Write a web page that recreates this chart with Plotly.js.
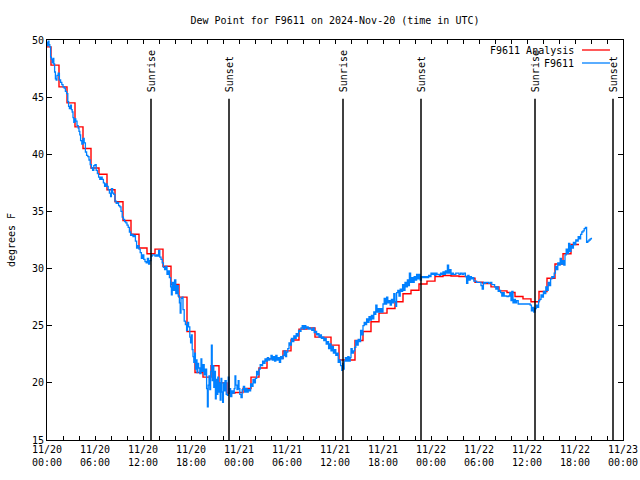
<!DOCTYPE html>
<html>
<head>
<meta charset="utf-8">
<script src="https://cdn.plot.ly/plotly-3.0.1.min.js"></script>
<style>html,body{margin:0;padding:0;background:#fff;}#chart{width:640px;height:480px;}</style>
</head>
<body>
<div id="chart"></div>
<script>
// ---- data (hours after 2024-11-20 00:00 UTC) ----
const analysisHours = [-0.5,0.5,1.5,2.5,3.5,4.5,5.5,6.5,7.5,8.5,9.5,10.5,11.5,12.5,13.5,14.5,15.5,16.5,17.5,18.5,19.5,20.5,21.5,22.5,23.5,24.5,25.5,26.5,27.5,28.5,29.5,30.5,31.5,32.5,33.5,34.5,35.5,36.5,37.5,38.5,39.5,40.5,41.5,42.5,43.5,44.5,45.5,46.5,47.5,48.5,49.5,50.5,51.5,52.5,53.5,54.5,55.5,56.5,57.5,58.5,59.5,60.5,61.5,62.5,63.5,64.5,65.5,66.5];
const analysisDew = [49.4,47.8,45.9,44.5,42.4,40.5,38.8,38.25,36.9,35.85,34.2,33.0,31.8,31.3,31.7,30.2,28.6,27.5,24.5,20.9,20.5,21.5,20.0,19.1,19.15,19.5,20.5,21.3,22.1,22.15,22.8,23.75,24.7,24.8,24.0,24.0,23.3,22.0,22.0,23.7,24.5,25.35,26.1,26.5,27.1,27.8,28.1,28.65,28.9,29.3,29.4,29.35,29.3,29.15,28.8,28.7,28.4,28.05,27.9,27.55,27.35,27.1,28.0,29.15,30.4,31.3,32.1,32.1];

const stationHours = [0.00,0.08,0.15,0.25,0.35,0.45,0.55,0.65,0.75,0.85,0.95,1.05,1.15,1.25,1.40,1.55,1.70,1.85,2.00,2.15,2.30,2.45,2.60,2.70,2.80,2.95,3.05,3.15,3.25,3.35,3.45,3.60,3.75,3.90,4.00,4.10,4.20,4.35,4.50,4.65,4.80,4.95,5.10,5.25,5.40,5.55,5.70,5.85,6.00,6.15,6.30,6.45,6.60,6.75,6.90,7.05,7.20,7.35,7.50,7.65,7.80,7.95,8.05,8.20,8.35,8.50,8.65,8.80,8.95,9.10,9.25,9.40,9.55,9.70,9.85,10.00,10.15,10.30,10.45,10.60,10.75,10.90,11.05,11.20,11.35,11.50,11.65,11.80,11.95,12.10,12.25,12.40,12.55,12.70,12.85,13.00,13.15,13.30,13.50,13.70,13.85,13.95,14.10,14.25,14.40,14.55,14.70,14.85,15.00,15.15,15.30,15.45,15.55,15.65,15.80,15.95,16.10,16.25,16.40,16.55,16.65,16.75,16.90,17.00,17.15,17.30,17.45,17.55,17.70,17.85,17.95,18.05,18.15,18.25,18.35,18.45,18.55,18.65,18.75,18.85,18.95,19.10,19.25,19.35,19.50,19.65,19.80,19.95,20.05,20.15,20.25,20.35,20.45,20.55,20.65,20.75,20.85,20.95,21.05,21.15,21.25,21.35,21.45,21.55,21.65,21.75,21.85,21.95,22.05,22.15,22.25,22.40,22.55,22.65,22.75,22.85,22.95,23.10,23.25,23.40,23.50,23.60,23.75,23.90,24.00,24.10,24.25,24.40,24.55,24.70,24.85,25.00,25.15,25.30,25.45,25.60,25.75,25.90,26.05,26.20,26.35,26.50,26.65,26.80,26.95,27.10,27.25,27.40,27.55,27.70,27.85,28.00,28.15,28.30,28.45,28.60,28.75,28.90,29.05,29.20,29.35,29.50,29.65,29.80,29.95,30.10,30.25,30.40,30.55,30.70,30.85,31.00,31.15,31.30,31.45,31.60,31.75,31.90,32.05,32.20,32.35,32.50,32.65,32.80,32.95,33.10,33.25,33.40,33.55,33.70,33.85,34.00,34.15,34.30,34.45,34.60,34.75,34.90,35.05,35.20,35.35,35.50,35.65,35.80,35.95,36.10,36.25,36.40,36.55,36.70,36.85,36.95,37.05,37.15,37.30,37.45,37.60,37.75,37.90,38.00,38.15,38.30,38.45,38.60,38.75,38.90,39.05,39.20,39.35,39.50,39.65,39.80,39.95,40.10,40.25,40.40,40.55,40.70,40.85,41.00,41.10,41.25,41.40,41.55,41.70,41.85,42.00,42.15,42.30,42.45,42.60,42.75,42.90,43.05,43.20,43.35,43.50,43.60,43.70,43.85,44.00,44.15,44.30,44.45,44.60,44.75,44.90,45.05,45.20,45.30,45.45,45.60,45.75,45.90,46.05,46.20,46.35,46.50,46.65,46.80,46.95,47.10,47.25,47.40,47.55,47.70,47.85,48.00,48.15,48.30,48.45,48.60,48.75,48.90,49.05,49.20,49.35,49.50,49.65,49.80,49.95,50.05,50.20,50.35,50.50,50.65,50.80,50.95,51.10,51.30,51.50,51.70,51.90,52.10,52.30,52.45,52.60,52.75,52.90,53.05,53.20,53.35,53.50,53.70,53.90,54.10,54.25,54.40,54.55,54.70,54.85,55.00,55.20,55.40,55.60,55.80,55.95,56.10,56.25,56.40,56.55,56.70,56.85,57.00,57.15,57.30,57.50,57.70,57.85,58.00,58.10,58.25,58.40,58.55,58.70,58.90,59.20,59.50,59.80,60.10,60.40,60.55,60.70,60.85,61.00,61.15,61.30,61.45,61.60,61.75,61.90,62.05,62.20,62.35,62.50,62.65,62.80,62.95,63.10,63.25,63.40,63.55,63.70,63.85,64.00,64.15,64.30,64.45,64.60,64.75,64.90,65.05,65.20,65.35,65.50,65.65,65.80,65.95,66.10,66.25,66.40,66.55,66.70,66.85,67.00,67.15,67.30,67.45,67.60,67.75,67.90,68.05];
const stationDew = [49.8,49.5,49.9,49.6,49.4,48.5,48.3,48.0,48.4,47.9,47.2,46.6,46.5,46.9,47.1,46.5,46.3,46.1,45.9,45.8,45.5,45.3,44.6,44.2,44.0,44.3,43.9,43.7,43.2,42.8,43.1,42.9,42.5,42.3,42.0,41.7,41.2,40.9,41.4,41.0,40.2,39.9,39.8,39.5,39.1,38.8,38.6,39.0,39.1,38.6,38.3,38.0,37.8,38.0,37.8,37.5,37.2,37.4,37.2,36.9,36.6,36.3,37.0,36.6,36.5,35.9,35.7,35.8,35.5,35.4,35.0,34.5,34.3,34.1,34.0,33.8,33.6,33.2,32.9,33.0,32.8,32.9,32.4,31.8,32.0,31.7,31.4,30.9,31.2,30.8,30.6,30.5,30.9,30.4,30.7,31.1,31.2,31.2,31.1,31.2,31.1,31.6,31.0,30.8,30.5,30.1,29.9,30.2,29.5,29.8,29.2,28.4,27.7,28.8,28.1,29.0,27.8,28.5,27.6,27.0,26.1,27.4,27.5,26.4,25.4,25.1,24.6,25.3,24.9,24.0,23.5,24.2,22.9,22.3,21.8,22.6,21.2,22.0,20.9,21.7,21.3,20.8,22.1,21.0,21.6,20.7,21.2,19.5,17.9,19.8,20.6,19.4,21.0,23.3,20.2,21.5,19.6,21.0,18.6,20.3,19.0,20.5,19.2,20.0,18.5,20.4,19.2,18.3,20.0,19.3,20.2,19.0,18.9,20.5,19.1,19.5,18.8,19.3,19.1,19.5,20.6,19.8,19.4,20.2,19.5,19.0,18.7,19.4,19.7,19.2,19.5,19.2,19.4,19.3,19.9,19.7,20.3,20.0,20.4,21.0,20.7,21.2,21.6,21.5,21.9,21.7,22.1,21.9,22.2,22.0,22.1,22.4,22.0,22.3,21.9,22.4,22.0,22.2,21.8,22.3,22.1,22.4,22.8,22.3,22.7,23.0,23.5,23.3,23.9,23.6,24.1,23.9,24.3,24.1,24.6,24.5,24.8,25.0,24.7,25.0,24.8,24.9,24.7,24.8,24.7,24.6,24.8,24.4,24.5,24.2,24.3,24.0,24.2,23.9,24.0,23.7,23.9,23.4,23.6,23.0,23.4,22.8,23.2,22.6,22.9,22.4,22.6,21.8,22.0,21.5,21.1,21.7,21.2,21.9,22.2,21.9,22.3,21.9,22.2,23.0,22.6,22.8,23.1,23.7,23.3,23.8,23.6,24.6,24.2,25.0,25.3,25.1,25.6,25.3,25.8,25.5,25.9,25.6,26.2,26.0,26.8,26.2,26.5,26.2,26.5,26.2,26.9,27.4,26.9,27.5,27.0,27.2,26.8,27.3,27.0,27.8,27.1,26.7,27.9,28.1,27.6,28.2,28.0,28.6,28.1,28.8,28.4,29.0,28.5,29.6,28.8,29.2,28.8,29.3,29.0,29.5,29.1,29.5,29.0,29.3,29.2,29.3,29.2,29.3,29.2,29.4,29.3,29.6,29.5,29.6,29.4,29.6,29.5,29.5,29.4,29.6,29.5,29.7,29.5,29.8,29.6,30.3,29.6,29.9,29.5,29.6,29.5,29.5,29.6,29.6,29.5,29.6,29.5,29.6,29.3,28.7,29.4,29.0,29.3,29.1,29.2,28.9,28.9,28.8,28.8,28.8,28.5,28.2,28.8,28.7,28.8,28.8,28.7,28.8,28.6,28.6,28.4,28.2,28.4,28.0,28.1,27.9,27.6,27.9,27.6,27.6,27.55,27.6,27.9,27.2,28.0,27.0,27.3,27.0,27.2,26.9,26.9,26.9,26.9,26.9,26.8,26.3,26.6,26.2,26.5,26.8,26.6,27.2,27.3,27.7,27.5,28.0,27.8,28.4,28.1,28.8,28.5,29.1,29.3,29.2,29.6,30.2,29.9,30.5,30.3,30.9,30.4,30.7,30.3,31.2,31.7,31.3,32.2,31.5,32.0,31.8,32.3,32.1,32.5,32.4,32.8,32.6,33.0,33.2,33.3,33.5,33.6,32.3,32.4,32.5,32.6,32.7];

const sunriseHours = [13.0, 37.0, 61.0];
const sunsetHours = [22.75, 46.75, 70.75];
const xTickHours = [0,6,12,18,24,30,36,42,48,54,60,66,72];
const xTickLabels = ['11/20<br>00:00','11/20<br>06:00','11/20<br>12:00','11/20<br>18:00','11/21<br>00:00','11/21<br>06:00','11/21<br>12:00','11/21<br>18:00','11/22<br>00:00','11/22<br>06:00','11/22<br>12:00','11/22<br>18:00','11/23<br>00:00'];
const seriesNames = ['F9611 Analysis', 'F9611'];
const titleText = 'Dew Point for F9611 on 2024-Nov-20 (time in UTC)';

// ---- helpers ----
const T0 = Date.UTC(2024, 10, 20, 0, 0, 0);
function toDate(h) { return new Date(T0 + h * 3600000).toISOString().replace('T', ' ').slice(0, 19); }

const FONT = {family: 'DejaVu Sans Mono, monospace', size: 10, color: '#000'};
const RED = '#ff0000', BLUE = '#0080ff';
const sunTop = 44.85;

const traces = [
  {x: analysisHours.map(toDate), y: analysisDew, type: 'scatter', mode: 'lines',
   line: {shape: 'hv', color: RED, width: 1.4}, name: seriesNames[0], showlegend: false},
  {x: stationHours.map(toDate), y: stationDew, type: 'scatter', mode: 'lines',
   line: {shape: 'hv', color: BLUE, width: 1.3}, name: seriesNames[1], showlegend: false}
];

const shapes = [];
const annotations = [];
sunriseHours.forEach(h => {
  shapes.push({type: 'line', xref: 'x', yref: 'y', x0: toDate(h), x1: toDate(h), y0: 15, y1: sunTop, line: {color: '#000', width: 1.5}});
  annotations.push({xref: 'x', yref: 'paper', x: toDate(h), y: 0.922, text: 'Sunrise', textangle: -90, showarrow: false, xanchor: 'center', yanchor: 'middle', font: FONT});
});
sunsetHours.forEach(h => {
  shapes.push({type: 'line', xref: 'x', yref: 'y', x0: toDate(h), x1: toDate(h), y0: 15, y1: sunTop, line: {color: '#000', width: 1.5}});
  annotations.push({xref: 'x', yref: 'paper', x: toDate(h), y: 0.9145, text: 'Sunset', textangle: -90, showarrow: false, xanchor: 'center', yanchor: 'middle', font: FONT});
});
// legend (gnuplot style: text then sample)
[[seriesNames[0], RED, 0.975], [seriesNames[1], BLUE, 0.9425]].forEach(([name, col, yy]) => {
  annotations.push({xref: 'paper', yref: 'paper', x: 0.918, y: yy, text: name, showarrow: false, xanchor: 'right', yanchor: 'middle', font: FONT});
  shapes.push({type: 'line', xref: 'paper', yref: 'paper', x0: 0.9288, x1: 0.9774, y0: yy, y1: yy, line: {color: col, width: 1.3}});
});

const layout = {
  width: 640, height: 480,
  margin: {l: 47, r: 17, t: 40, b: 40, pad: 0},
  paper_bgcolor: '#fff', plot_bgcolor: '#fff',
  font: FONT,
  showlegend: false,
  title: {text: titleText, font: FONT, x: 0.5, xref: 'paper', xanchor: 'center', y: 0.958, yanchor: 'middle'},
  xaxis: {
    type: 'date', range: [toDate(0), toDate(72)],
    tickmode: 'array', tickvals: xTickHours.map(toDate), ticktext: xTickLabels,
    ticks: 'inside', ticklen: 4, tickcolor: '#000', tickwidth: 1,
    minor: {tickmode: 'linear', tick0: toDate(0), dtick: 7200000, ticks: 'inside', ticklen: 4, tickcolor: '#000'},
    showline: true, linecolor: '#000', linewidth: 1, mirror: 'allticks',
    showgrid: false, zeroline: false, tickfont: FONT, tickangle: 0
  },
  yaxis: {
    range: [15, 50], tickmode: 'linear', tick0: 15, dtick: 5,
    ticks: 'inside', ticklen: 5, tickcolor: '#000',
    showline: true, linecolor: '#000', linewidth: 1, mirror: 'allticks',
    showgrid: false, zeroline: false, tickfont: FONT,
    title: {text: 'degrees F', font: FONT, standoff: 14}
  },
  shapes: shapes,
  annotations: annotations
};

Plotly.newPlot('chart', traces, layout, {displayModeBar: false, staticPlot: true});
</script>
</body>
</html>
